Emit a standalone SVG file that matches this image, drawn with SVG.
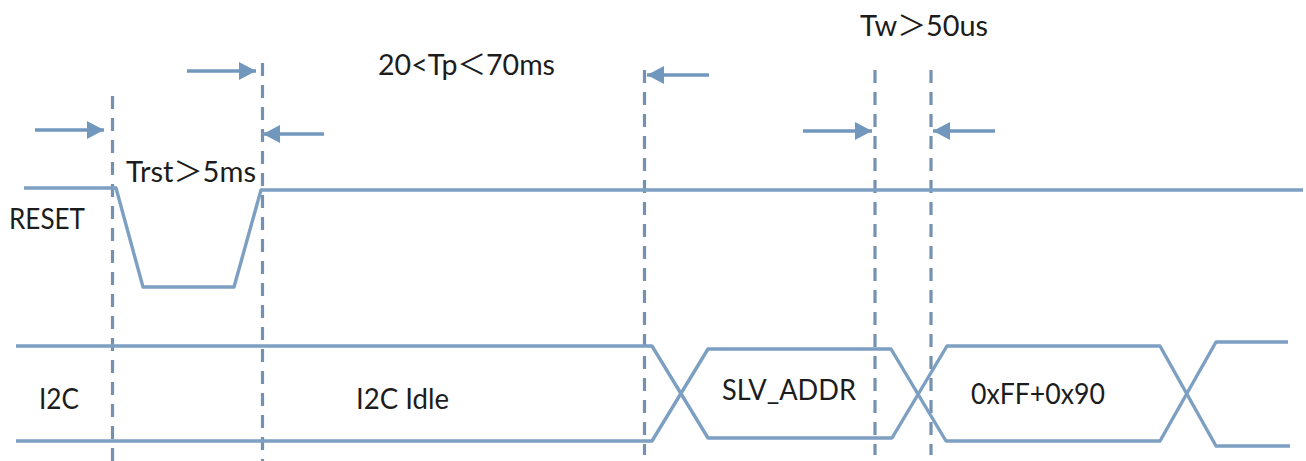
<svg xmlns="http://www.w3.org/2000/svg" width="1306" height="461" viewBox="0 0 1306 461">
<style>
.sig{fill:none;stroke:#7c9fc2;stroke-width:3.4;stroke-linejoin:round}
.dash{fill:none;stroke:#7492b0;stroke-width:3.2;stroke-dasharray:13 9}
.arr{fill:none;stroke:#7297bd;stroke-width:3.4;marker-end:url(#ah)}
text{font-family:"Lato","Noto Sans CJK SC",sans-serif;font-size:28px;fill:#1c1c1c}
</style>
<defs><marker id="ah" markerUnits="userSpaceOnUse" markerWidth="18" markerHeight="20" refX="17" refY="9" orient="auto"><path d="M0 0L17 9L0 18Z" fill="#7297bd"/></marker></defs>
<rect width="1306" height="461" fill="#fff"/>
<g id="connectors">
<path class="dash" d="M112.5 96V461"/>
<path class="dash" d="M262.5 63V461"/>
<path class="dash" d="M644.5 70V455"/>
<path class="dash" d="M875 70V455"/>
<path class="dash" d="M931 70V455"/>
<path class="arr" d="M35 130H104"/>
<path class="arr" d="M187 71H256"/>
<path class="arr" d="M324 134H263"/>
<path class="arr" d="M709 75H647"/>
<path class="arr" d="M803 131H872"/>
<path class="arr" d="M995 131H933"/>
</g>
<g id="reset-signal"><path class="sig" d="M24 188H116L143 287H234L261 190H1303"/></g>
<g id="i2c-signal">
<path class="sig" d="M16 346H652L708 438H892L947 346H1160L1216 446H1290"/>
<path class="sig" d="M16 441H652L708 349H891L946 441H1160L1216 342H1288"/>
</g>
<g id="label-reset"><text x="9" y="229" textLength="76" lengthAdjust="spacingAndGlyphs">RESET</text></g>
<g id="label-i2c"><text x="39" y="409" textLength="40" lengthAdjust="spacingAndGlyphs">I2C</text></g>
<g id="label-idle"><text x="356" y="409" textLength="93" lengthAdjust="spacingAndGlyphs">I2C Idle</text></g>
<g id="label-trst"><text x="126" y="182" textLength="130" lengthAdjust="spacingAndGlyphs">Trst＞5ms</text></g>
<g id="label-tp"><text x="378" y="75" textLength="177" lengthAdjust="spacingAndGlyphs">20&lt;Tp＜70ms</text></g>
<g id="label-tw"><text x="860" y="36" textLength="128" lengthAdjust="spacingAndGlyphs">Tw＞50us</text></g>
<g id="label-slv"><text x="722" y="400" textLength="134" lengthAdjust="spacingAndGlyphs">SLV_ADDR</text></g>
<g id="label-data"><text x="971" y="404" textLength="134" lengthAdjust="spacingAndGlyphs">0xFF+0x90</text></g>
</svg>
